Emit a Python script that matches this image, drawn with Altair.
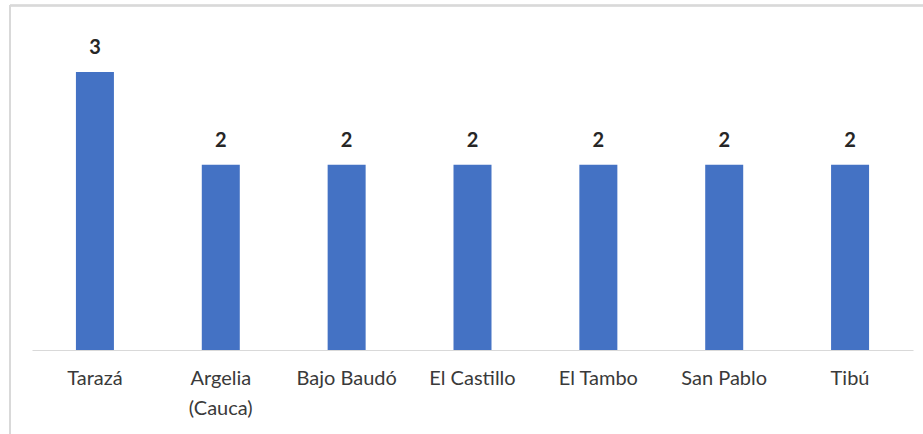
import altair as alt
import pandas as pd

categories = ["Tarazá", "Argelia\n(Cauca)", "Bajo Baudó", "El Castillo", "El Tambo", "San Pablo", "Tibú"]
values = [3, 2, 2, 2, 2, 2, 2]

df = pd.DataFrame({"cat": categories, "val": values})

FONT = "Lato"
W, H = 881, 278

x_enc = alt.X("cat:N", sort=categories, title=None,
              scale=alt.Scale(paddingInner=0, paddingOuter=0),
              axis=alt.Axis(labelAngle=0, ticks=False, domainColor="#d9d9d9",
                            domainWidth=1, labelFont=FONT, labelFontSize=20,
                            labelColor="#3a3a3a", labelPadding=18,
                            labelLineHeight=30,
                            labelExpr="split(datum.label, '\\n')"))
y_enc = alt.Y("val:Q", title=None, scale=alt.Scale(domain=[0, 3], nice=False),
              axis=None)

bars = alt.Chart(df).mark_bar(size=38, color="#4472C4").encode(x=x_enc, y=y_enc)
labels = alt.Chart(df).mark_text(baseline="bottom", dy=-14, font=FONT, fontSize=20,
                                  fontWeight="bold", color="#262626").encode(
    x=alt.X("cat:N", sort=categories), y="val:Q", text="val:Q")

border_top = alt.Chart(df).mark_rule(color="#d9d9d9", strokeWidth=1.5).encode(
    x=alt.value(-22), x2=alt.value(W + 10), y=alt.value(-66.5))
border_left = alt.Chart(df).mark_rule(color="#d9d9d9", strokeWidth=1.5).encode(
    x=alt.value(-22), y=alt.value(-67), y2=alt.value(H + 84))

chart = alt.layer(bars, labels, border_top, border_left).properties(
    width=W, height=H,
    autosize=alt.AutoSizeParams(type="none"),
    padding={"left": 32, "top": 72, "right": 10, "bottom": 84},
    background="white",
).configure_view(stroke=None)

chart.save("out.html", embed_options={"renderer": "svg", "actions": False})
